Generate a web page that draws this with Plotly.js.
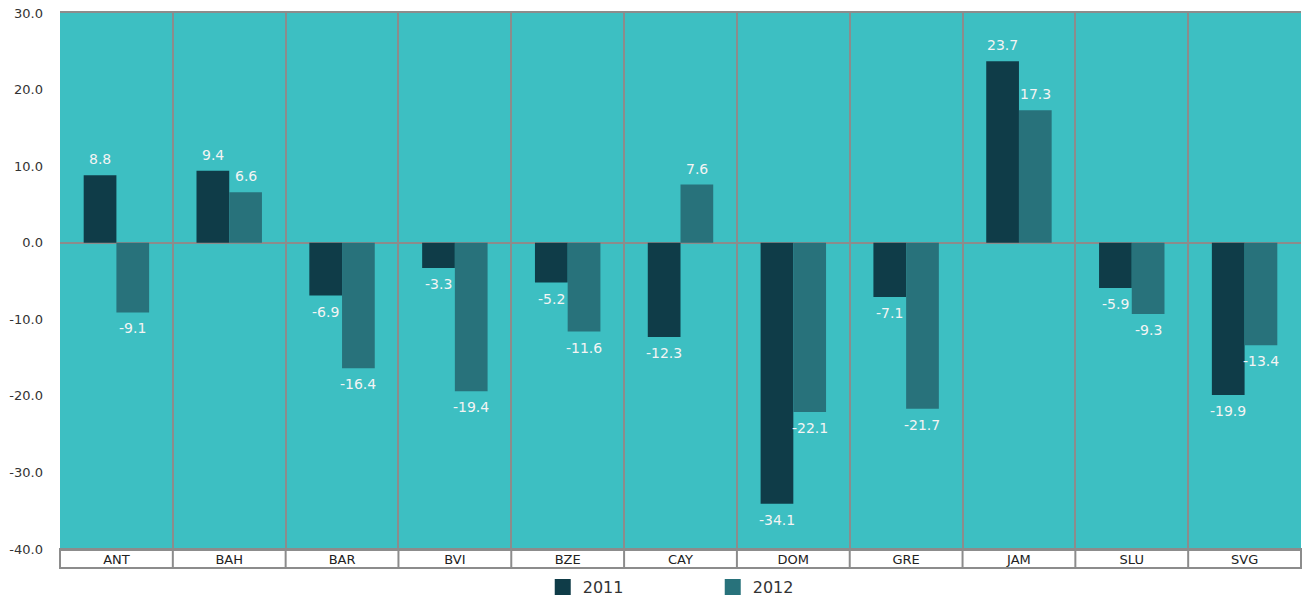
<!DOCTYPE html>
<html>
<head>
<meta charset="utf-8">
<script src="https://cdn.plot.ly/plotly-3.0.1.min.js"></script>
<style>
  html, body { margin: 0; padding: 0; background: #ffffff; }
  #chart { width: 1303px; height: 597px; }
</style>
</head>
<body>
<div id="chart"></div>
<script>
// Territories and yearly values (per cent change)
const territories = ["ANT", "BAH", "BAR", "BVI", "BZE", "CAY", "DOM", "GRE", "JAM", "SLU", "SVG"];
const values2011 = [8.8, 9.4, -6.9, -3.3, -5.2, -12.3, -34.1, -7.1, 23.7, -5.9, -19.9];
const values2012 = [-9.1, 6.6, -16.4, -19.4, -11.6, 7.6, -22.1, -21.7, 17.3, -9.3, -13.4];
const seriesNames = ["2011", "2012"];
const yTickValues = [-40, -30, -20, -10, 0, 10, 20, 30];
const yTickLabels = ["-40.0", "-30.0", "-20.0", "-10.0", "0.0", "10.0", "20.0", "30.0"];

const fontFamily = "DejaVu Sans, Verdana, sans-serif";
const borderGray = "#8c8c8c";
const colors = ["#0f3c48", "#28727b"];
const seriesValues = [values2011, values2012];

function barTrace(name, vals, color) {
  return {
    type: "bar",
    name: name,
    x: territories,
    y: vals,
    showlegend: false,
    marker: { color: color, line: { width: 0 } },
    hoverinfo: "x+y+name"
  };
}

// Legend-only entries with larger square swatches
function legendTrace(name, color) {
  return {
    type: "scatter",
    mode: "markers",
    name: name,
    x: [null],
    y: [null],
    marker: { symbol: "square", size: 16, color: color },
    hoverinfo: "skip"
  };
}

const data = [
  barTrace(seriesNames[0], values2011, colors[0]),
  barTrace(seriesNames[1], values2012, colors[1]),
  legendTrace(seriesNames[0], colors[0]),
  legendTrace(seriesNames[1], colors[1])
];

const plotWidth = 1303 - 60 - 2;
const plotHeight = 597 - 13 - 48;
const boxDepth = 19;
const bargap = 0.42;
const barPx = plotWidth / territories.length * (1 - bargap) / 2;

// Value labels: centred over each bar, set off from the bar end
const valueLabels = [];
seriesValues.forEach((vals, s) => {
  vals.forEach((v, i) => {
    valueLabels.push({
      xref: "x",
      yref: "y",
      x: territories[i],
      y: v,
      text: v.toFixed(1),
      showarrow: false,
      xanchor: "center",
      yanchor: "middle",
      xshift: (s === 0 ? -1 : 1) * barPx / 2,
      yshift: v >= 0 ? 16 : -16,
      font: { family: fontFamily, size: 14, color: "#f4f4f4" }
    });
  });
});

// Divider lines in the category label strip
const dividerShapes = [];
for (let i = 0; i <= territories.length; i++) {
  dividerShapes.push({
    type: "line",
    xref: "x",
    yref: "paper",
    x0: i - 0.5,
    x1: i - 0.5,
    y0: -boxDepth / plotHeight,
    y1: 0,
    line: { color: borderGray, width: 2 },
    layer: "above"
  });
}

const layout = {
  width: 1303,
  height: 597,
  margin: { l: 60, r: 2, t: 13, b: 48, autoexpand: false },
  paper_bgcolor: "#ffffff",
  plot_bgcolor: "#3dbfc2",
  barmode: "group",
  bargap: bargap,
  bargroupgap: 0,
  font: { family: fontFamily, color: "#333333" },
  showlegend: true,
  legend: {
    orientation: "h",
    xref: "container",
    yref: "container",
    x: 0.547,
    xanchor: "center",
    y: 10 / 597,
    yanchor: "middle",
    entrywidth: 125,
    entrywidthmode: "pixels",
    font: { family: fontFamily, size: 16, color: "#333333" },
    itemsizing: "trace",
    bgcolor: "rgba(0,0,0,0)"
  },
  annotations: valueLabels,
  xaxis: {
    type: "category",
    range: [-0.5, territories.length - 0.5],
    tickson: "boundaries",
    ticks: "",
    showgrid: true,
    gridcolor: borderGray,
    gridwidth: 2,
    showline: true,
    linecolor: borderGray,
    linewidth: 2,
    mirror: true,
    automargin: false,
    tickfont: { family: fontFamily, size: 13, color: "#222222" },
    ticklabelstandoff: -3,
    fixedrange: true
  },
  yaxis: {
    range: [-40, 30],
    tickmode: "array",
    tickvals: yTickValues,
    ticktext: yTickLabels,
    showgrid: false,
    zeroline: true,
    zerolinecolor: borderGray,
    zerolinewidth: 2,
    showline: false,
    ticks: "",
    automargin: false,
    ticklabelstandoff: 16,
    tickfont: { family: fontFamily, size: 13, color: "#333333" },
    fixedrange: true
  },
  shapes: [
    {
      type: "rect",
      xref: "paper",
      yref: "paper",
      x0: 0,
      x1: 1,
      y0: -boxDepth / plotHeight,
      y1: 0,
      line: { color: borderGray, width: 2 },
      fillcolor: "rgba(0,0,0,0)",
      layer: "above"
    }
  ].concat(dividerShapes)
};

Plotly.newPlot("chart", data, layout, { displayModeBar: false, staticPlot: true });
</script>
</body>
</html>
